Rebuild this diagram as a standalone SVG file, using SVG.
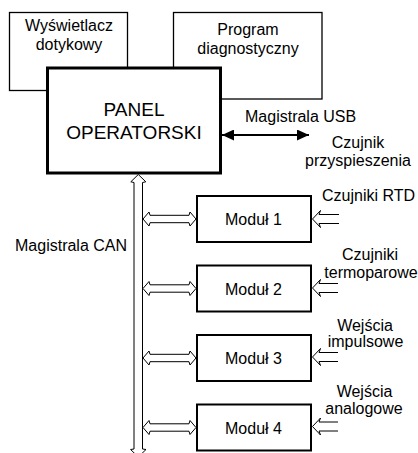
<svg xmlns="http://www.w3.org/2000/svg" width="418" height="453" viewBox="0 0 418 453">
<style>
text{font-family:"Liberation Sans",Arial,sans-serif;font-size:16px;fill:#000}
.c{text-anchor:middle}
.box{fill:#fff;stroke:#000;stroke-width:1.3}
.panel{fill:#fff;stroke:#000;stroke-width:3}
.mod{fill:#fff;stroke:#000;stroke-width:2}
.hollow{fill:#fff;stroke:#000;stroke-width:1}
.open{fill:none;stroke:#000;stroke-width:1}
.usb{stroke:#000;stroke-width:2;fill:none}
</style>
<defs>
<marker id="ah" viewBox="0 0 12 11" refX="12" refY="5.5" markerWidth="12" markerHeight="11" markerUnits="userSpaceOnUse" orient="auto-start-reverse">
<path d="M0,0 L12,5.5 L0,11 z" fill="#000"/>
</marker>
</defs>
<g id="wyswietlacz">
<rect class="box" x="9.5" y="12.5" width="118" height="78"/>
<text class="c" x="69" y="31">Wyświetlacz</text>
<text class="c" x="69" y="50">dotykowy</text>
</g>
<g id="program">
<rect class="box" x="173.5" y="12.5" width="148.5" height="86.5"/>
<text class="c" x="248" y="34.5">Program</text>
<text class="c" x="248" y="53.5">diagnostyczny</text>
</g>
<g id="panel">
<rect class="panel" x="47.5" y="68" width="173" height="105"/>
<text class="c" x="134" y="116" style="font-size:19px">PANEL</text>
<text class="c" x="134" y="139" style="font-size:19px">OPERATORSKI</text>
</g>
<g id="modul1">
<rect class="mod" x="197" y="196" width="114" height="46"/>
<text class="c" x="253.5" y="225">Moduł 1</text>
</g>
<g id="modul2">
<rect class="mod" x="197" y="265.5" width="114" height="46"/>
<text class="c" x="253.5" y="294.5">Moduł 2</text>
</g>
<g id="modul3">
<rect class="mod" x="197" y="335" width="114" height="46"/>
<text class="c" x="253.5" y="364">Moduł 3</text>
</g>
<g id="modul4">
<rect class="mod" x="197" y="404.5" width="114" height="46"/>
<text class="c" x="253.5" y="433.5">Moduł 4</text>
</g>
<g id="connectors">
<line class="usb" x1="222" y1="135" x2="309" y2="135" marker-start="url(#ah)" marker-end="url(#ah)"/>
<polygon class="hollow" points="138.3,174.5 145.8,181.8 142.5,182.5 142.5,449 146,449.5 138.3,457 130.6,449.5 134,449 134,182.5 130.8,181.8"/>
<polygon class="hollow" points="143,219 149,212 150,215.3 189,215.3 190,212 196,219 190,226 189,222.7 150,222.7 149,226"/>
<polygon class="hollow" points="143,288.5 149,281.5 150,284.8 189,284.8 190,281.5 196,288.5 190,295.5 189,292.2 150,292.2 149,295.5"/>
<polygon class="hollow" points="143,358 149,351 150,354.3 189,354.3 190,351 196,358 190,365 189,361.7 150,361.7 149,365"/>
<polygon class="hollow" points="143,427.5 149,420.5 150,423.8 189,423.8 190,420.5 196,427.5 190,434.5 189,431.2 150,431.2 149,434.5"/>
<path class="open" d="M339,214.5 H319 L320.5,210.5 L312.5,219 L320.5,227.5 L319,223.5 H339"/>
<path class="open" d="M338,283.5 H319 L320.5,279.5 L312.5,288 L320.5,296.5 L319,292.5 H338"/>
<path class="open" d="M338,352.5 H319 L320.5,348.5 L312.5,357 L320.5,365.5 L319,361.5 H338"/>
<path class="open" d="M338,422 H319 L320.5,418 L312.5,426.5 L320.5,435 L319,431 H338"/>
</g>
<g id="labels">
<text x="245" y="122">Magistrala USB</text>
<text class="c" x="358" y="148">Czujnik</text>
<text class="c" x="358" y="166">przyspieszenia</text>
<text x="15" y="251">Magistrala CAN</text>
<text x="322" y="201">Czujniki RTD</text>
<text class="c" x="370" y="259.5">Czujniki</text>
<text class="c" x="371" y="277.5">termoparowe</text>
<text class="c" x="365" y="330.5">Wejścia</text>
<text class="c" x="365.5" y="347">impulsowe</text>
<text class="c" x="364.5" y="397">Wejścia</text>
<text class="c" x="364" y="414">analogowe</text>
</g>
</svg>
